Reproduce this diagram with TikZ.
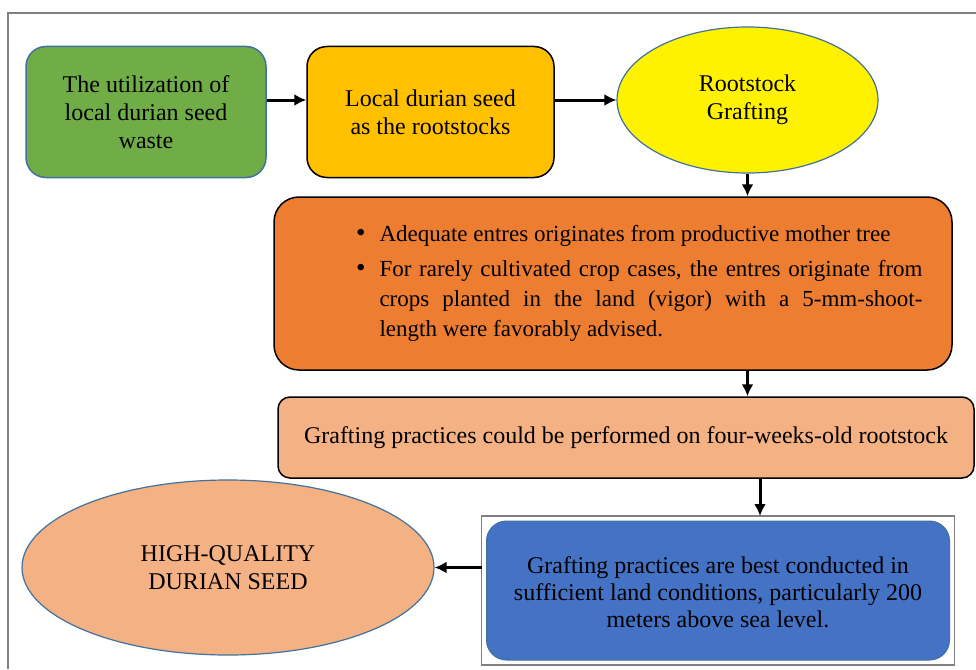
\documentclass[tikz,border=0pt]{standalone}
\usepackage{fontspec}
\setmainfont{Liberation Serif}
\usetikzlibrary{shapes.geometric,arrows.meta}
\definecolor{grn}{HTML}{70AD47}
\definecolor{gold}{HTML}{FFC000}
\definecolor{orng}{HTML}{ED7D31}
\definecolor{peach}{HTML}{F4B183}
\definecolor{blu}{HTML}{4472C4}
\definecolor{edge}{HTML}{41719C}
\renewcommand{\labelitemi}{{\fontsize{27}{27}\selectfont\textbullet}}
\tikzset{
  box/.style={draw,line width=1.5pt,rounded corners=20pt,inner sep=0pt,align=center,font=\rmfamily\fontsize{24}{28}\selectfont},
  oval/.style={ellipse,draw=edge,line width=1.2pt,inner sep=0pt,align=center,font=\rmfamily\fontsize{24}{28}\selectfont},
  arr/.style={-{Latex[length=12pt,width=12pt]},line width=3pt}
}
\begin{document}
\begin{tikzpicture}[x=1pt,y=-1pt]
            \useasboundingbox(0,0)rectangle(976,669);
            \draw[gray,line width=2pt](976,13)--(8,13)--(8,669);
            \node[box,draw=edge,fill=grn,minimum width=240pt,minimum height=131pt](1)at(146,112){The utilization of\\local durian seed\\waste};
            \node[box,fill=gold,minimum width=247pt,minimum height=131pt](2)at(430.5,112){Local durian seed\\as the rootstocks};
            \node[oval,fill=yellow,minimum width=261pt,minimum height=146pt](3)at(747.5,100){Rootstock\\Grafting};
            \node[box,fill=orng,rounded corners=25pt,minimum width=678pt,minimum height=173pt](4)at(613,283.5){\hspace*{54pt}\begin{minipage}{565pt}\fontsize{23}{30}\selectfont
              \setlength{\leftmargini}{22pt}\setlength{\labelsep}{14pt}
              \begin{itemize}\setlength{\itemsep}{1pt}\setlength{\parsep}{0pt}
              \item Adequate entres originates from productive mother tree
              \item For rarely cultivated crop cases, the entres originate from\linebreak crops planted in the land (vigor) with a 5-mm-shoot-\linebreak length were favorably advised.
              \end{itemize}\end{minipage}};
            \node[box,fill=peach,rounded corners=12pt,minimum width=696pt,minimum height=81pt](5)at(626,437.5){Grafting practices could be performed on four-weeks-old rootstock};
            \node[box,draw=edge,line width=1pt,fill=blu,outer sep=5pt,minimum width=463pt,minimum height=139pt,font=\rmfamily\fontsize{24}{27}\selectfont](6)at(718,590.5){\\[-6pt]Grafting practices are best conducted in\\sufficient land conditions, particularly 200\\meters above sea level.};
            \draw[gray,line width=1.5pt](6.north west)rectangle(6.south east);
            \node[oval,fill=peach,minimum width=412pt,minimum height=175pt](7)at(228,567.5){HIGH-QUALITY\\DURIAN SEED};
            \coordinate(c)at([xshift=42pt]6.north);
            \draw[arr](1.east|-3.west)--(2.west|-3.west);
            \draw[arr](2.east|-3.west)--(3.west);
            \draw[arr](3.south)--(3.south|-4.north);
            \draw[arr](4.south-|3.south)--(5.north-|3.south);
            \draw[arr](c|-5.south)--(c);
            \draw[arr](6.west|-7.east)--(7.east);
        \end{tikzpicture}
\end{document}
